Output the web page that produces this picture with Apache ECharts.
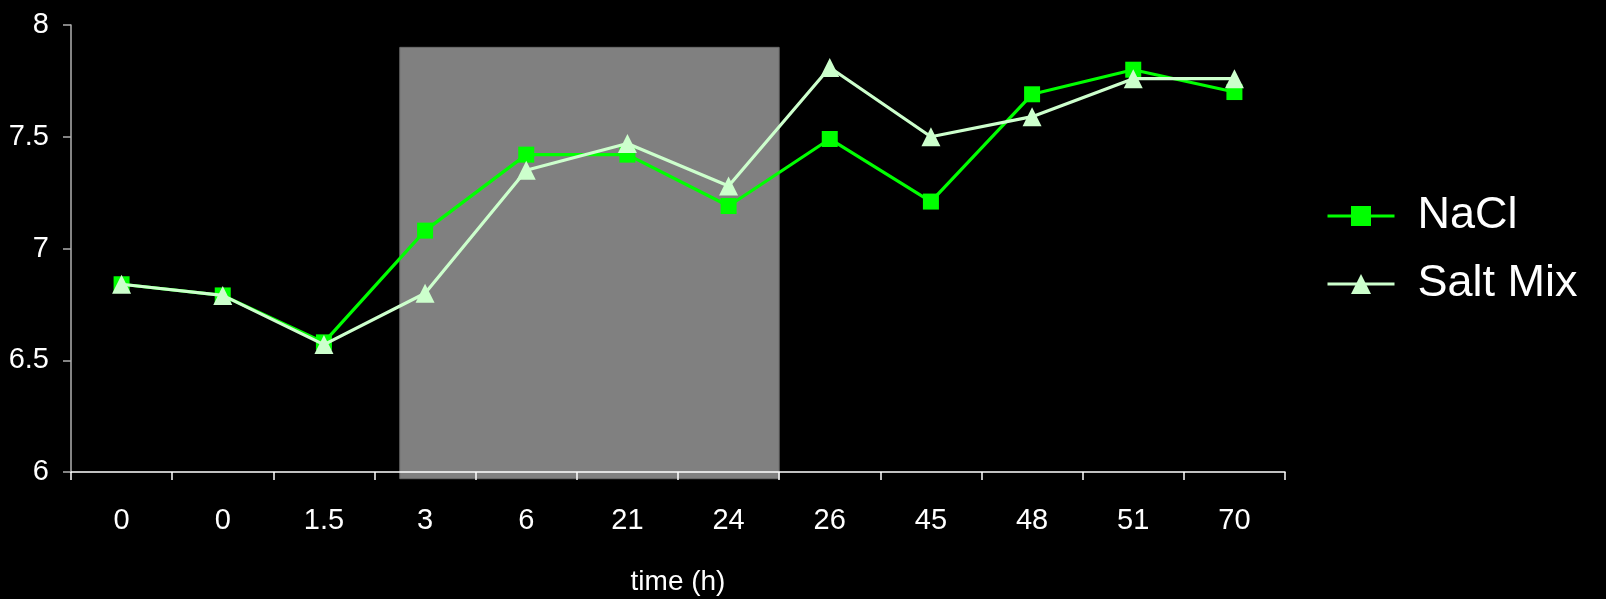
<!DOCTYPE html>
<html>
<head>
<meta charset="utf-8">
<script src="https://cdn.jsdelivr.net/npm/echarts@6/dist/echarts.min.js"></script>
<style>
html,body{margin:0;padding:0;background:#000;}
#chart{width:1606px;height:599px;}
</style>
</head>
<body>
<div id="chart"></div>
<script>
var categories = ['0', '0', '1.5', '3', '6', '21', '24', '26', '45', '48', '51', '70'];
var naclValues = [6.84, 6.79, 6.58, 7.08, 7.42, 7.42, 7.19, 7.49, 7.21, 7.69, 7.80, 7.70];
var saltMixValues = [6.84, 6.79, 6.57, 6.80, 7.35, 7.47, 7.28, 7.81, 7.50, 7.59, 7.76, 7.76];
var yTicks = [6, 6.5, 7, 7.5, 8];
// shaded period (in category-index units and y values)
var shadeFrom = 2.75, shadeTo = 6.5, shadeTop = 7.9, shadeBottom = 5.97;

var FONT = '"Liberation Sans", Arial, sans-serif';
var chart = echarts.init(document.getElementById('chart'));
chart.setOption({
  backgroundColor: '#000',
  animation: false,
  grid: {left: 71, right: 321, top: 25, bottom: 127, containLabel: false, outerBoundsMode: 'none'},
  legend: {
    orient: 'vertical',
    left: 1326,
    top: 190,
    padding: 0,
    itemGap: 16,
    itemWidth: 67,
    itemHeight: 25,
    lineStyle: {width: 3},
    textStyle: {color: '#fff', fontSize: 45, fontFamily: FONT, lineHeight: 52, padding: [0, 0, 0, 18]},
    data: ['NaCl', 'Salt Mix']
  },
  xAxis: {
    type: 'category',
    data: categories,
    boundaryGap: true,
    name: 'time (h)',
    nameLocation: 'middle',
    nameGap: 96,
    nameTextStyle: {color: '#fff', fontSize: 28, fontFamily: FONT},
    axisLine: {lineStyle: {color: '#ffffff', width: 1.5}},
    axisTick: {show: true, length: 8, inside: false, alignWithLabel: false, lineStyle: {color: '#ffffff', width: 1.5}},
    axisLabel: {color: '#fff', fontSize: 29, fontFamily: FONT, margin: 34},
    splitLine: {show: false}
  },
  yAxis: {
    type: 'value',
    min: yTicks[0],
    max: yTicks[yTicks.length - 1],
    interval: 0.5,
    axisLine: {show: true, lineStyle: {color: '#b0b0b0', width: 1.5}},
    axisTick: {show: true, length: 8, lineStyle: {color: '#b0b0b0', width: 1.5}},
    axisLabel: {color: '#fff', fontSize: 29, fontFamily: FONT, margin: 22},
    splitLine: {show: false}
  },
  series: [
    {
      name: 'NaCl',
      type: 'line',
      data: naclValues,
      symbol: 'rect',
      symbolSize: 16,
      color: '#00ff00',
      lineStyle: {color: '#00ff00', width: 3.2},
      itemStyle: {color: '#00ff00'},
      z: 3
    },
    {
      name: 'Salt Mix',
      type: 'line',
      data: saltMixValues,
      symbol: 'triangle',
      symbolSize: 19,
      color: '#ccffcc',
      lineStyle: {color: '#ccffcc', width: 3.2},
      itemStyle: {color: '#ccffcc'},
      z: 4
    }
  ]
});

// shaded rectangle positioned through the axes' own scales
var p0 = chart.convertToPixel({xAxisIndex: 0}, 0);
var p1 = chart.convertToPixel({xAxisIndex: 0}, 1);
var step = p1 - p0;
var xa = p0 + step * shadeFrom;
var xb = p0 + step * shadeTo;
var ya = chart.convertToPixel({yAxisIndex: 0}, shadeTop);
var yb = chart.convertToPixel({yAxisIndex: 0}, shadeBottom);
chart.setOption({
  graphic: [{
    type: 'rect',
    z: -1,
    shape: {x: xa, y: ya, width: xb - xa, height: yb - ya},
    style: {fill: '#808080', stroke: '#6a6a6a', lineWidth: 1}
  }]
});
</script>
</body>
</html>
